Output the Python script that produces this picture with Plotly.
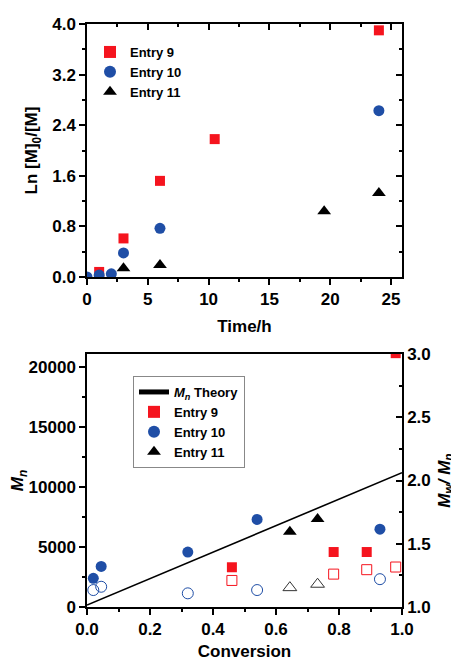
import plotly.graph_objects as go

# ---- top panel data: Ln([M]0/[M]) vs time ----
t9 = [1, 3, 6, 10.5, 24]
k9 = [0.08, 0.61, 1.52, 2.18, 3.90]
t10 = [0, 1, 2, 3, 6, 24]
k10 = [0.0, 0.03, 0.05, 0.38, 0.77, 2.63]
t11 = [3, 6, 19.5, 24]
k11 = [0.14, 0.19, 1.04, 1.33]

# ---- bottom panel data: Mn and PDI vs conversion ----
theory_conv = [0.0, 1.0]
theory_mn = [160, 11190]

c9 = [0.46, 0.783, 0.888, 0.98]
mn9 = [3310, 4580, 4580, 21150]
pdi9 = [1.21, 1.26, 1.295, 1.316]

c10 = [0.02, 0.045, 0.32, 0.54, 0.93]
mn10 = [2390, 3380, 4580, 7300, 6480]
pdi10 = [1.134, 1.16, 1.108, 1.134, 1.22]

c11 = [0.644, 0.732]
mn11 = [6280, 7330]
pdi11 = [1.153, 1.18]

RED = "#f5141e"
BLUE = "#1f4ea6"
BLACK = "#000000"
FONT = "Liberation Sans, Arial, sans-serif"

# page body has an 8px margin, so the figure is drawn 8px in from the window corner
W, H, OFF = 451, 653, 8

fig = go.Figure()

# top panel
fig.add_trace(go.Scatter(x=t9, y=k9, mode="markers", name="Entry 9",
                         marker=dict(symbol="square", size=10, color=RED),
                         xaxis="x", yaxis="y", legend="legend"))
fig.add_trace(go.Scatter(x=t10, y=k10, mode="markers", name="Entry 10",
                         marker=dict(symbol="circle", size=11, color=BLUE),
                         xaxis="x", yaxis="y", legend="legend"))
fig.add_trace(go.Scatter(x=t11, y=k11, mode="markers", name="Entry 11",
                         marker=dict(symbol="triangle-up", size=12, color=BLACK),
                         xaxis="x", yaxis="y", legend="legend"))
# invisible traces so that the mirrored frame axes (inward ticks) are drawn
fig.add_trace(go.Scatter(x=[None], y=[None], mode="markers", showlegend=False,
                         hoverinfo="skip", xaxis="x3", yaxis="y"))
fig.add_trace(go.Scatter(x=[None], y=[None], mode="markers", showlegend=False,
                         hoverinfo="skip", xaxis="x", yaxis="y3"))

# bottom panel
fig.add_trace(go.Scatter(x=theory_conv, y=theory_mn, mode="lines",
                         name="<i>M<sub>n</sub></i> Theory",
                         line=dict(color=BLACK, width=1.6),
                         xaxis="x2", yaxis="y2", legend="legend2"))
fig.add_trace(go.Scatter(x=c9, y=mn9, mode="markers", name="Entry 9",
                         marker=dict(symbol="square", size=10, color=RED),
                         xaxis="x2", yaxis="y2", legend="legend2"))
fig.add_trace(go.Scatter(x=c10, y=mn10, mode="markers", name="Entry 10",
                         marker=dict(symbol="circle", size=11, color=BLUE),
                         xaxis="x2", yaxis="y2", legend="legend2"))
fig.add_trace(go.Scatter(x=c11, y=mn11, mode="markers", name="Entry 11",
                         marker=dict(symbol="triangle-up", size=12, color=BLACK),
                         xaxis="x2", yaxis="y2", legend="legend2"))
fig.add_trace(go.Scatter(x=c9, y=pdi9, mode="markers", showlegend=False,
                         marker=dict(symbol="square-open", size=10, color=RED, line=dict(width=1)),
                         xaxis="x2", yaxis="y4"))
fig.add_trace(go.Scatter(x=c10, y=pdi10, mode="markers", showlegend=False,
                         marker=dict(symbol="circle-open", size=11, color=BLUE, line=dict(width=1)),
                         xaxis="x2", yaxis="y4"))
fig.add_trace(go.Scatter(x=c11, y=pdi11, mode="markers", showlegend=False,
                         marker=dict(symbol="triangle-up-open", size=12, color="#333333", line=dict(width=1)),
                         xaxis="x2", yaxis="y4"))


def px_x(p):
    return (p - OFF) / W


def px_y(p):
    return 1 - (p - OFF) / H


XD = [px_x(87), px_x(402)]
YD_TOP = [px_y(277), px_y(24)]
YD_BOT = [px_y(607), px_y(354)]

tickfont = dict(family=FONT, size=17, color="black", weight="bold")
titlefont = dict(family=FONT, size=17, color="black", weight="bold")

common = dict(showline=True, linecolor="black", linewidth=1.5, showgrid=False,
              zeroline=False, ticklen=6, tickwidth=1.5, tickcolor="black",
              tickfont=tickfont, automargin=False)


def minor(dt, where):
    return dict(dtick=dt, ticks=where, ticklen=3, tickcolor="black", tickwidth=1.5)


legfont = dict(family=FONT, size=13, color="black", weight="bold")

fig.update_layout(
    width=W, height=H,
    margin=dict(l=0, r=0, t=0, b=0, autoexpand=False),
    paper_bgcolor="white", plot_bgcolor="white",
    font=dict(family=FONT, color="black"),
    xaxis=dict(domain=XD, anchor="y", range=[0, 25.9], tick0=0, dtick=5,
               ticks="outside", minor=minor(2.5, "outside"),
               title=dict(text="Time/h", font=titlefont, standoff=12), **common),
    yaxis=dict(domain=YD_TOP, anchor="x", range=[0, 4.0], tick0=0, dtick=0.8,
               tickformat=".1f", ticks="outside", minor=minor(0.4, "outside"),
               title=dict(text="Ln [M]<sub>0</sub>/[M]", font=titlefont, standoff=10), **common),
    xaxis3=dict(overlaying="x", side="top", anchor="y", range=[0, 25.9], tick0=0, dtick=5,
                ticks="inside", showticklabels=False, minor=minor(2.5, "inside"), **common),
    yaxis3=dict(overlaying="y", side="right", anchor="x", range=[0, 4.0], tick0=0, dtick=0.8,
                ticks="inside", showticklabels=False, minor=minor(0.4, "inside"), **common),
    xaxis2=dict(domain=XD, anchor="y2", range=[0, 1.0], tick0=0, dtick=0.2,
                tickformat=".1f", ticks="outside", mirror=True, minor=minor(0.1, "outside"),
                title=dict(text="Conversion", font=titlefont, standoff=10), **common),
    yaxis2=dict(domain=YD_BOT, anchor="x2", range=[0, 21080], tick0=0, dtick=5000,
                tickformat="d", ticks="outside", minor=minor(2500, "outside"),
                title=dict(text="<i>M<sub>n</sub></i>", font=titlefont, standoff=6), **common),
    yaxis4=dict(overlaying="y2", side="right", anchor="x2", range=[1, 3], tick0=1, dtick=0.5,
                tickformat=".1f", ticks="inside", minor=minor(0.25, "inside"),
                title=dict(text="<i>M<sub>w</sub>/ M<sub>n</sub></i>", font=titlefont, standoff=8),
                **common),
    legend=dict(x=px_x(90), y=px_y(37), xanchor="left", yanchor="top",
                bgcolor="rgba(0,0,0,0)", borderwidth=0, font=legfont,
                itemsizing="constant", tracegroupgap=0),
    legend2=dict(x=px_x(133), y=px_y(376), xanchor="left", yanchor="top",
                 bgcolor="white", bordercolor="#888888", borderwidth=1, font=legfont,
                 itemsizing="constant", tracegroupgap=0),
)

fig.write_html("out.html")
